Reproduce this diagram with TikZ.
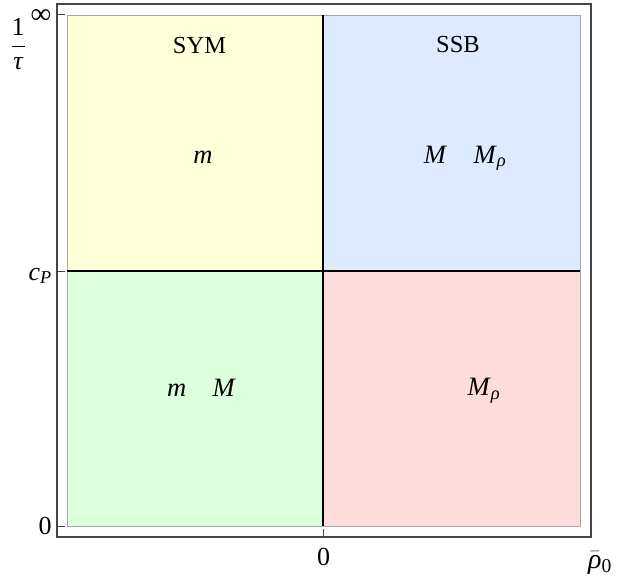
\documentclass[tikz,border=0pt]{standalone}
\usepackage{fontspec}
\setmainfont{Liberation Serif}
\newcommand{\myit}[1]{\mbox{\itshape #1}}
\definecolor{cyel}{RGB}{255,255,218}
\definecolor{cblu}{RGB}{220,235,255}
\definecolor{cgrn}{RGB}{220,255,220}
\definecolor{cpnk}{RGB}{255,220,220}
\definecolor{frame}{RGB}{70,70,70}
\begin{document}
\begin{tikzpicture}[x=1pt,y=-1pt,
  region/.style={font=\fontsize{24.5}{28}\selectfont, inner sep=0pt, anchor=base},
  mathlab/.style={font=\fontsize{26.5}{30}\selectfont, inner sep=0pt, anchor=base},
  ticklab/.style={font=\fontsize{26}{30}\selectfont, inner sep=0pt},
  divider/.style={black, line width=1.2pt},
  frameline/.style={frame, line width=1.2pt},
  tickline/.style={frame, line width=1pt}]
\useasboundingbox (0,0) rectangle (621,578);
% quadrants
\fill[cyel] (67,15) rectangle (323,271);
\fill[cblu] (323,15) rectangle (580,271);
\fill[cgrn] (67,271) rectangle (323,526);
\fill[cpnk] (323,271) rectangle (580,526);
\draw[gray!70, line width=0.8pt] (67,15) rectangle (580,526);
% dividers
\coordinate (vt) at (323,15);
\coordinate (vb) at (323,526);
\coordinate (hl) at (67,271);
\coordinate (hr) at (580,271);
\draw[divider] (vt) -- (vb);
\draw[divider] (hl) -- (hr);
% frame
\draw[frameline] (57,4) rectangle (591,537);
% ticks
\coordinate (tinf) at (57,15);
\coordinate (tcp) at (57,271);
\coordinate (tzero) at (57,526);
\coordinate (tbot) at (323,537);
\draw[tickline] (tinf) -- ++(8,0);
\draw[tickline] (tcp) -- ++(8,0);
\draw[tickline] (tzero) -- ++(8,0);
\draw[tickline] (tbot) -- ++(0,-8);
% tick labels
\node[ticklab, font=\fontsize{29}{32}\selectfont] (linf) at (41,17) {∞};
\node[ticklab, anchor=base east] (lcp) at (52,280) {\textit{c}\textsubscript{\textit{P}}};
\node[ticklab] (lzero) at (45,526) {0};
\node[ticklab] (bzero) at (323.5,557) {0};
\node[ticklab] (ylab) at (18,44) {$\displaystyle\frac{\mbox{1}}{\myit{τ}}$};
\node[ticklab, font=\fontsize{28}{32}\selectfont] (xlab) at (600,563) {$\bar{\myit{ρ}}$\textsubscript{0}};
% region labels
\node[region] (sym) at (199.5,53) {SYM};
\node[region] (ssb) at (458,52.5) {SSB};
\node[mathlab] (q1) at (203,163) {\textit{m}};
\node[mathlab] (q2) at (465,163) {\textit{M}\quad\textit{M}\textsubscript{\textit{ρ}}};
\node[mathlab] (q3) at (201.5,396) {\textit{m}\quad\textit{M}};
\node[mathlab] (q4) at (484,395.5) {\textit{M}\textsubscript{\textit{ρ}}};
\end{tikzpicture}
\end{document}
